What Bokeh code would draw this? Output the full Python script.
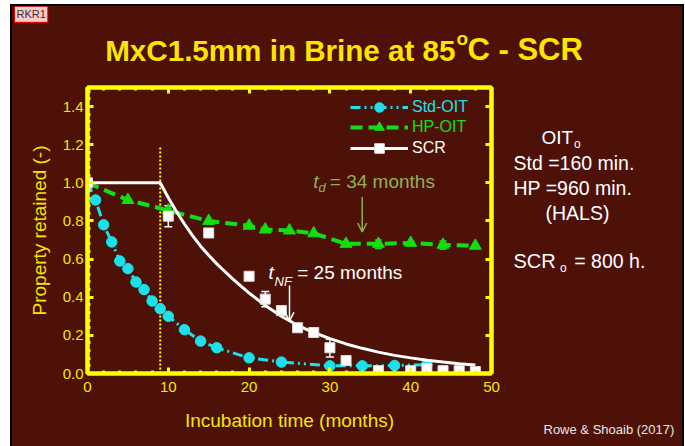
from bokeh.plotting import figure
from bokeh.layouts import column, row
from bokeh.models import (Range1d, LinearAxis, SingleIntervalTicker, NumeralTickFormatter,
                          CustomJSTickFormatter, Label, Legend, LegendItem, Arrow, OpenHead,
                          Whisker, TeeHead, ColumnDataSource)
from bokeh.embed import file_html
from bokeh.resources import INLINE

# ---------------- data ----------------
std_months = [0, 1, 2, 3, 4, 5, 6, 7, 8, 9, 10, 12, 14, 16, 20, 24, 30, 34, 38, 42]
std_values = [1.0, 0.91, 0.78, 0.69, 0.59, 0.55, 0.48, 0.44, 0.38, 0.34, 0.30, 0.23, 0.17,
              0.135, 0.082, 0.06, 0.04, 0.04, 0.042, 0.047]

hp_months = [0, 5, 10, 15, 20, 22, 25, 28, 32, 36, 40, 44, 48]
hp_values = [1.0, 0.91, 0.855, 0.80, 0.775, 0.755, 0.75, 0.735, 0.68, 0.68, 0.685, 0.675, 0.67]
hp_err_months = [36, 44]
hp_err_lower = [0.655, 0.652]
hp_err_upper = [0.70, 0.695]

scr_months = [0, 10, 15, 20, 22, 24, 26, 28, 30, 32, 36, 40, 42, 44, 46, 48]
scr_values = [1.0, 0.825, 0.737, 0.51, 0.39, 0.33, 0.24, 0.215, 0.135, 0.068, 0.015, 0.015,
              0.025, 0.015, 0.015, 0.01]
scr_err_months = [10, 20, 22, 30]
scr_err_lower = [0.77, 0.495, 0.35, 0.086]
scr_err_upper = [0.88, 0.525, 0.43, 0.18]

scr_fit_months = [0, 9, 10, 11, 12, 13, 14, 15, 16, 17, 18, 19, 20, 22, 24, 26, 28, 30, 32,
                  34, 36, 38, 40, 42, 44, 46, 48]
scr_fit_values = [1.0, 1.0, 0.922, 0.85, 0.784, 0.723, 0.668, 0.62, 0.575, 0.535, 0.495, 0.458,
                  0.422, 0.357, 0.30, 0.253, 0.215, 0.183, 0.155, 0.132, 0.112, 0.095, 0.082,
                  0.07, 0.06, 0.051, 0.044]

onset_month = [9]
onset_top = [1.19]
td_month, td_from, td_to = 34, 0.926, 0.742
tnf_month, tnf_from, tnf_to = 25, 0.462, 0.275

series_labels = ["Std-OIT", "HP-OIT", "SCR"]

# ---------------- style ----------------
BG = "#4E1108"
YEL = "#FFFF00"
TXTY = "#F5E600"
TITLEY = "#FFE400"
CYAN = "#1BE1EC"
GREEN = "#10E010"
OLIVE = "#92B04F"
WHITE = "#FFFFFF"
FONT = "Liberation Sans"
BASE_SHIFT = 0.33   # label anchor sits this many font-sizes above the visual baseline

# geometry in page pixels
PAGE_X0, PAGE_Y0 = 12, 6
TOTAL_W, TOTAL_H = 670, 440
TITLE_BOTTOM = 67
MAIN_RIGHT = 505
FL, FR, FT, FB = 87, 491, 87, 373  # frame edges
HOST = {"background-color": BG}


def blank_fig(w, h, x0, x1, y0, y1):
    f = figure(width=w, height=h, x_range=Range1d(x0, x1), y_range=Range1d(y1, y0),
               output_backend="svg", toolbar_location=None,
               x_axis_location=None, y_axis_location=None, min_border=0,
               background_fill_color=BG, border_fill_color=BG, outline_line_color=None,
               frame_align=False, styles=HOST)
    f.grid.visible = False
    return f


def txt(fig, text, X, B, size, color, style="normal", align="left", units="data", sign=-1, **kw):
    # B: wanted baseline (page pixels)
    fig.add_layout(Label(x=X, y=B + sign * BASE_SHIFT * size, x_units=units, y_units=units,
                         text=text, text_font=FONT, text_font_size=f"{size}px",
                         text_font_style=style, text_color=color, text_align=align,
                         text_baseline="alphabetic", **kw))


# ---------------- title strip ----------------
TITLE_H = TITLE_BOTTOM - PAGE_Y0
tfig = blank_fig(TOTAL_W, TITLE_H, PAGE_X0, PAGE_X0 + TOTAL_W, PAGE_Y0, TITLE_BOTTOM)
txt(tfig, "MxC1.5mm in Brine at 85", 455, 59.5, 29.6, TITLEY, "bold", "right")
txt(tfig, "o", 456, 44, 19, TITLEY, "bold", "left")
txt(tfig, "C - SCR", 467, 59.5, 31, TITLEY, "bold", "left")
txt(tfig, "RKR1", 14, 17.5, 11, "#333333", background_fill_color="#FFC8C8",
    border_line_color="#E00000", border_line_width=1, padding=2)

# ---------------- main chart ----------------
MAIN_W = MAIN_RIGHT - PAGE_X0
MAIN_H = PAGE_Y0 + TOTAL_H - TITLE_BOTTOM
p = figure(width=MAIN_W, height=MAIN_H, x_range=Range1d(0, 50), y_range=Range1d(0, 1.5),
           output_backend="svg", toolbar_location=None,
           x_axis_location=None, y_axis_location=None,
           min_border_left=FL - PAGE_X0, min_border_right=MAIN_RIGHT - FR,
           min_border_top=FT - TITLE_BOTTOM, min_border_bottom=PAGE_Y0 + TOTAL_H - FB,
           background_fill_color=BG, border_fill_color=BG,
           outline_line_color=YEL, outline_line_width=4,
           frame_align=False, styles=HOST)
p.grid.visible = False


def style_axis(ax, minor=True, labels=True):
    ax.axis_line_color = YEL
    ax.axis_line_width = 4
    ax.major_tick_line_color = YEL
    ax.major_tick_line_width = 3
    ax.major_tick_in = 6
    ax.major_tick_out = 0
    ax.minor_tick_line_color = YEL if minor else None
    ax.minor_tick_line_width = 3
    ax.minor_tick_in = 3
    ax.minor_tick_out = 0
    ax.major_label_text_color = TXTY
    ax.major_label_text_font = FONT
    ax.major_label_text_font_size = "15px" if labels else "1px"
    if not labels:
        ax.major_label_standoff = 0
    ax.axis_label_text_color = TXTY
    ax.axis_label_text_font = FONT
    ax.axis_label_text_font_size = "19px"
    ax.axis_label_text_font_style = "normal"


left = LinearAxis(ticker=SingleIntervalTicker(interval=0.2, num_minor_ticks=5),
                  formatter=NumeralTickFormatter(format="0.0"),
                  axis_label="Property retained (-)")
style_axis(left)
left.major_label_standoff = 4
left.axis_label_standoff = 10
p.add_layout(left, "left")

bottom = LinearAxis(ticker=SingleIntervalTicker(interval=10, num_minor_ticks=5),
                    axis_label="Incubation time (months)")
style_axis(bottom)
bottom.major_label_standoff = 8
bottom.axis_label_standoff = 15
p.add_layout(bottom, "below")

top = LinearAxis(ticker=SingleIntervalTicker(interval=10, num_minor_ticks=5),
                 formatter=CustomJSTickFormatter(code="return ''"))
style_axis(top, labels=False)
p.add_layout(top, "above")

right = LinearAxis(ticker=SingleIntervalTicker(interval=0.2, num_minor_ticks=0),
                   formatter=CustomJSTickFormatter(code="return ''"))
style_axis(right, minor=False, labels=False)
p.add_layout(right, "right")

p.segment(x0=onset_month, y0=[0], x1=onset_month, y1=onset_top,
          line_color=YEL, line_width=2, line_dash="2 2")

hp_line = p.line(hp_months, hp_values, line_color=GREEN, line_width=4, line_dash="12 6")
hp_pts = p.scatter(hp_months, hp_values, marker="triangle", size=12,
                   fill_color=GREEN, line_color=GREEN)
p.add_layout(Whisker(source=ColumnDataSource(dict(x=hp_err_months, lo=hp_err_lower, hi=hp_err_upper)),
                     base="x", lower="lo", upper="hi", line_color=GREEN, line_width=1.5,
                     upper_head=TeeHead(size=7, line_color=GREEN, line_width=1.5),
                     lower_head=TeeHead(size=7, line_color=GREEN, line_width=1.5)))

std_line = p.line(std_months, std_values, line_color=CYAN, line_width=3,
                  line_dash="10 4 2 4 2 4")
std_pts = p.scatter(std_months, std_values, marker="circle", size=10.5,
                    fill_color=CYAN, line_color=CYAN)

scr_line = p.line(scr_fit_months, scr_fit_values, line_color=WHITE, line_width=3)
p.add_layout(Whisker(source=ColumnDataSource(dict(x=scr_err_months, lo=scr_err_lower, hi=scr_err_upper)),
                     base="x", lower="lo", upper="hi", line_color=WHITE, line_width=1.5,
                     upper_head=TeeHead(size=8, line_color=WHITE, line_width=1.5),
                     lower_head=TeeHead(size=8, line_color=WHITE, line_width=1.5)))
scr_pts = p.scatter(scr_months, scr_values, marker="square", size=10,
                    fill_color=WHITE, line_color="#DDDDDD")


def add_legend(label, rends, color, cy):
    p.add_layout(Legend(items=[LegendItem(label=label, renderers=rends)],
                        location=(263, FB - cy - 12), orientation="vertical",
                        glyph_width=58, glyph_height=24, label_standoff=4, label_height=20,
                        padding=0, margin=0, spacing=0,
                        border_line_alpha=0, background_fill_alpha=0,
                        label_text_color=color, label_text_font=FONT,
                        label_text_font_size="16px"))


add_legend(series_labels[0], [std_line, std_pts], CYAN, 106.7)
add_legend(series_labels[1], [hp_line, hp_pts], GREEN, 127.2)
add_legend(series_labels[2], [scr_line, scr_pts], WHITE, 148.3)

p.add_layout(Arrow(end=OpenHead(size=9, line_color=OLIVE, line_width=1.5),
                   x_start=td_month, y_start=td_from, x_end=td_month, y_end=td_to,
                   line_color=OLIVE, line_width=1.5))
p.add_layout(Arrow(end=OpenHead(size=9, line_color=WHITE, line_width=1.5),
                   x_start=tnf_month, y_start=tnf_from, x_end=tnf_month, y_end=tnf_to,
                   line_color=WHITE, line_width=1.5))


def ftxt(text, X, B, size, color, style="normal"):
    # page pixels -> screen units relative to the main frame (y measured upward)
    txt(p, text, X - FL, FB - B, size, color, style, units="screen", sign=1)


ftxt("t", 312.7, 187.7, 19, OLIVE, "italic")
ftxt("d", 318, 191.5, 13, OLIVE, "italic")
ftxt("= 34 months", 329.3, 187.7, 19, OLIVE)
ftxt("t", 268, 278.3, 19, WHITE, "italic")
ftxt("NF", 274, 285.5, 13, WHITE, "italic")
ftxt("= 25 months", 296.7, 278.3, 19, WHITE)

# ---------------- right info panel ----------------
rfig = blank_fig(PAGE_X0 + TOTAL_W - MAIN_RIGHT, MAIN_H, MAIN_RIGHT, PAGE_X0 + TOTAL_W,
                 TITLE_BOTTOM, PAGE_Y0 + TOTAL_H)
txt(rfig, "OIT", 541, 143.5, 19, WHITE)
txt(rfig, "o", 573.5, 147.5, 12, WHITE)
txt(rfig, "Std =160 min.", 513, 169, 19.5, WHITE)
txt(rfig, "HP =960 min.", 513, 194, 19.5, WHITE)
txt(rfig, "(HALS)", 545, 218.5, 19.5, WHITE)
txt(rfig, "SCR", 513, 267.4, 20, WHITE)
txt(rfig, "o", 559.5, 271, 12, WHITE)
txt(rfig, "= 800 h.", 573.8, 267.4, 19.5, WHITE)
txt(rfig, "Rowe & Shoaib (2017)", 543, 433, 13, "#E6E6E6")

layout = column(tfig, row(p, rfig, spacing=0, styles=HOST), spacing=0,
                styles={"background-color": BG, "margin-left": f"{PAGE_X0}px",
                        "margin-top": f"{PAGE_Y0}px", "outline": "2px solid black"})
open("out.html", "w").write(file_html(layout, INLINE))
